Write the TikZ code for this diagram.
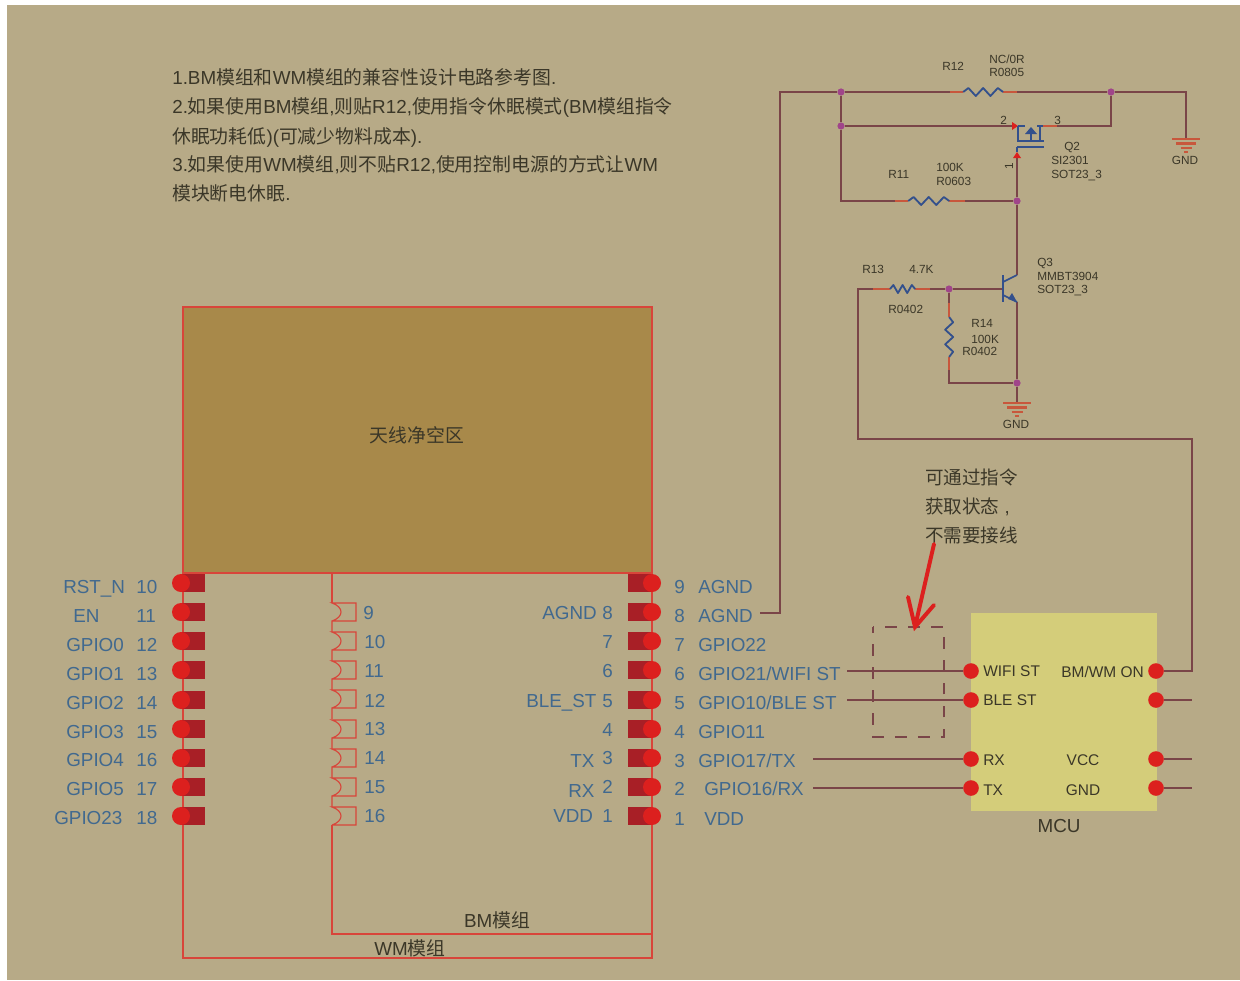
\documentclass[tikz,border=0pt]{standalone}
\usepackage{fontspec}
\setmainfont{Liberation Sans}
\newfontfamily\cjk{Noto Sans CJK SC}
\definecolor{boardtan}{HTML}{B7AA87}
\definecolor{clearzone}{HTML}{A8894A}
\definecolor{mcufill}{HTML}{D4CD7A}
\definecolor{modred}{HTML}{D8453A}
\definecolor{pinred}{HTML}{DC201E}
\definecolor{paddark}{HTML}{A81F26}
\definecolor{wirebrown}{HTML}{7A4548}
\definecolor{leadred}{HTML}{C8573C}
\definecolor{partblue}{HTML}{33508C}
\definecolor{joint}{HTML}{A0458A}
\definecolor{sigblue}{HTML}{41698F}
\definecolor{inkdark}{HTML}{3B3728}
\tikzset{
	modline/.style={line width=0.8pt, color=modred},
	wire/.style={line width=1.5pt, color=wirebrown},
	leadline/.style={line width=1.5pt, color=leadred},
	zigline/.style={line width=1.3pt, color=partblue, line join=round},
	partline/.style={line width=1.2pt, color=partblue},
	pindot/.style={circle, fill=pinred, inner sep=0pt, minimum size=0.45cm},
	mcudot/.style={circle, fill=pinred, inner sep=0pt, minimum size=0.39cm},
	jointdot/.style={circle, fill=joint, inner sep=0pt, minimum size=0.18cm},
	sigtxt/.style={anchor=west, inner sep=0pt, color=sigblue, text height=12pt, text depth=2pt, font=\fontsize{13.4}{16}\selectfont},
	notetxt/.style={anchor=west, inner sep=0pt, color=inkdark, text height=12pt, text depth=2pt, font=\fontsize{13.4}{16}\selectfont},
	mcutxt/.style={anchor=west, inner sep=0pt, color=inkdark, text height=10pt, text depth=2pt, font=\fontsize{11}{13}\selectfont},
	parttxt/.style={anchor=west, inner sep=0pt, color=inkdark, text height=7.5pt, text depth=1.5pt, font=\fontsize{8.4}{10}\selectfont},
	redmark/.style={line width=2.8pt, color=pinred, line cap=round}
}
\def\zh#1{{\cjk #1}}
\def\leftpad#1#2{\fill[paddark] (181,#2-9) rectangle (205,#2+9); \node[pindot] (#1) at (181,#2) {};}
\def\rightpad#1#2{\fill[paddark] (628,#2-9) rectangle (652,#2+9); \node[pindot] (#1) at (652,#2) {};}
\def\castle#1{\draw[modline] (332,#1+9) .. controls (344,#1+5) and (344,#1-5) .. (332,#1-9) -- (356,#1-9) -- (356,#1+9) -- (332,#1+9) -- (332,#1+20);}
\def\zig[#1](#2){\draw[zigline,#1] (#2) -- ++(5,-4) -- ++(7,8) -- ++(7,-8) -- ++(7,8) -- ++(7,-8) -- ++(5,4);}
\def\gndmark(#1){\draw[leadline] (#1) ++(-14,0) -- ++(28,0); \draw[leadline] (#1) ++(-10,4.5) -- ++(20,0); \draw[leadline] (#1) ++(-5.5,9) -- ++(11,0); \draw[leadline] (#1) ++(-2,13) -- ++(4,0);}

\begin{document}
\begin{tikzpicture}[x=0.025cm, y=-0.025cm]
		%%%%% START %%%%%
		\useasboundingbox (0, 0) rectangle (1240, 980);
		\fill[boardtan] (7, 5) rectangle (1240, 980);
		
		\node[notetxt] (noteone) at (172, 77) {1.BM\zh{模组和}WM\zh{模组的兼容性设计电路参考图}.};
		\node[notetxt] (notetwo) at (172, 106) {2.\zh{如果使用}BM\zh{模组},\zh{则贴}R12,\zh{使用指令休眠模式}(BM\zh{模组指令}};
		\node[notetxt] (notethree) at (172, 136) {\zh{休眠功耗低})(\zh{可减少物料成本}).};
		\node[notetxt] (notefour) at (172, 164) {3.\zh{如果使用}WM\zh{模组},\zh{则不贴}R12,\zh{使用控制电源的方式让}WM};
		\node[notetxt] (notefive) at (172, 193) {\zh{模块断电休眠}.};
		
		% module outlines
		\fill[clearzone] (183, 307) rectangle (652, 573);
		\draw[modline] (183, 307) rectangle (652, 958);
		\draw[modline] (183, 573) -- (652, 573);
		\draw[modline] (332, 573) -- (332, 603);
		\draw[modline] (332, 825) -- (332, 934) -- (652, 934);
		\node[notetxt, anchor=center] (cleartxt) at (417, 435) {\zh{天线净空区}};
		\node[notetxt, anchor=center] (bmtxt) at (497, 920) {BM\zh{模组}};
		\node[notetxt, anchor=center] (wmtxt) at (410, 948) {WM\zh{模组}};
		
		\castle{612}
		\castle{641}
		\castle{670}
		\castle{699}
		\castle{729}
		\castle{758}
		\castle{787}
		\draw[modline] (332, 825) .. controls (344, 821) and (344, 811) .. (332, 807) -- (356, 807) -- (356, 825) -- (332, 825);
		
		\node[sigtxt] (castnine) at (363, 612) {9};
		\node[sigtxt] (castten) at (364, 641) {10};
		\node[sigtxt] (casteleven) at (364, 670) {11};
		\node[sigtxt] (casttwelve) at (364, 700) {12};
		\node[sigtxt] (castthirteen) at (364, 728) {13};
		\node[sigtxt] (castfourteen) at (364, 757) {14};
		\node[sigtxt] (castfifteen) at (364, 786) {15};
		\node[sigtxt] (castsixteen) at (364, 815) {16};
		
		% left row
		\leftpad{lpten}{583}
		\leftpad{lpeleven}{612}
		\leftpad{lptwelve}{641}
		\leftpad{lpthirteen}{670}
		\leftpad{lpfourteen}{700}
		\leftpad{lpfifteen}{729}
		\leftpad{lpsixteen}{758}
		\leftpad{lpseventeen}{787}
		\leftpad{lpeighteen}{816}
		
		\node[sigtxt] (lnameten) at (63, 586) {RST\_N};
		\node[sigtxt] (lnameeleven) at (73, 615) {EN};
		\node[sigtxt] (lnametwelve) at (66, 644) {GPIO0};
		\node[sigtxt] (lnamethirteen) at (66, 673) {GPIO1};
		\node[sigtxt] (lnamefourteen) at (66, 702) {GPIO2};
		\node[sigtxt] (lnamefifteen) at (66, 731) {GPIO3};
		\node[sigtxt] (lnamesixteen) at (66, 759) {GPIO4};
		\node[sigtxt] (lnameseventeen) at (66, 788) {GPIO5};
		\node[sigtxt] (lnameeighteen) at (54, 817) {GPIO23};
		
		\node[sigtxt] (lnumten) at (136, 586) {10};
		\node[sigtxt] (lnumeleven) at (136, 615) {11};
		\node[sigtxt] (lnumtwelve) at (136, 644) {12};
		\node[sigtxt] (lnumthirteen) at (136, 673) {13};
		\node[sigtxt] (lnumfourteen) at (136, 702) {14};
		\node[sigtxt] (lnumfifteen) at (136, 731) {15};
		\node[sigtxt] (lnumsixteen) at (136, 759) {16};
		\node[sigtxt] (lnumseventeen) at (136, 788) {17};
		\node[sigtxt] (lnumeighteen) at (136, 817) {18};
		
		% right row
		\rightpad{rpnine}{583}
		\rightpad{rpeight}{612}
		\rightpad{rpseven}{641}
		\rightpad{rpsix}{670}
		\rightpad{rpfive}{700}
		\rightpad{rpfour}{729}
		\rightpad{rpthree}{758}
		\rightpad{rptwo}{787}
		\rightpad{rpone}{816}
		
		\node[sigtxt] (inagnd) at (542, 612) {AGND};
		\node[sigtxt] (innumeight) at (602, 612) {8};
		\node[sigtxt] (innumseven) at (602, 641) {7};
		\node[sigtxt] (innumsix) at (602, 670) {6};
		\node[sigtxt] (inblest) at (526, 700) {BLE\_ST};
		\node[sigtxt] (innumfive) at (602, 700) {5};
		\node[sigtxt] (innumfour) at (602, 729) {4};
		\node[sigtxt] (intx) at (570, 760) {TX};
		\node[sigtxt] (innumthree) at (602, 757) {3};
		\node[sigtxt] (inrx) at (568, 790) {RX};
		\node[sigtxt] (innumtwo) at (602, 786) {2};
		\node[sigtxt] (invdd) at (553, 815) {VDD};
		\node[sigtxt] (innumone) at (602, 815) {1};
		
		\node[sigtxt] (outnumnine) at (674, 586) {9};
		\node[sigtxt] (outnumeight) at (674, 615) {8};
		\node[sigtxt] (outnumseven) at (674, 644) {7};
		\node[sigtxt] (outnumsix) at (674, 673) {6};
		\node[sigtxt] (outnumfive) at (674, 702) {5};
		\node[sigtxt] (outnumfour) at (674, 731) {4};
		\node[sigtxt] (outnumthree) at (674, 760) {3};
		\node[sigtxt] (outnumtwo) at (674, 788) {2};
		\node[sigtxt] (outnumone) at (674, 818) {1};
		
		\node[sigtxt] (gagndnine) at (698, 586) {AGND};
		\node[sigtxt] (gagndeight) at (698, 615) {AGND};
		\node[sigtxt] (gseven) at (698, 644) {GPIO22};
		\node[sigtxt] (gsix) at (698, 673) {GPIO21/WIFI ST};
		\node[sigtxt] (gfive) at (698, 702) {GPIO10/BLE ST};
		\node[sigtxt] (gfour) at (698, 731) {GPIO11};
		\node[sigtxt] (gthree) at (698, 760) {GPIO17/TX};
		\node[sigtxt] (gtwo) at (704, 788) {GPIO16/RX};
		\node[sigtxt] (gone) at (704, 818) {VDD};
		
		% mcu block
		\fill[mcufill] (971, 613) rectangle (1157, 811);
		\node[mcudot] (mcuwifi) at (971, 671) {};
		\node[mcudot] (mcuble) at (971, 700) {};
		\node[mcudot] (mcurx) at (971, 759) {};
		\node[mcudot] (mcutx) at (971, 788) {};
		\node[mcudot] (mcuon) at (1156, 671) {};
		\node[mcudot] (mcuspare) at (1156, 700) {};
		\node[mcudot] (mcuvcc) at (1156, 759) {};
		\node[mcudot] (mcugnd) at (1156, 788) {};
		\node[mcutxt] (wifitxt) at (983, 671) {WIFI ST};
		\node[mcutxt] (bletxt) at (983, 700) {BLE ST};
		\node[mcutxt] (rxtxt) at (983, 760) {RX};
		\node[mcutxt] (txtxt) at (983, 790) {TX};
		\node[mcutxt] (ontxt) at (1061, 672) {BM/WM ON};
		\node[mcutxt, anchor=center] (vcctxt) at (1083, 760) {VCC};
		\node[mcutxt, anchor=center] (gndtxt) at (1083, 790) {GND};
		\node[notetxt, anchor=center] (mcutxtb) at (1059, 825) {MCU};
		
		\coordinate (wifiend) at (847, 671);
		\coordinate (bleend) at (847, 700);
		\coordinate (rxend) at (813, 759);
		\coordinate (txend) at (813, 788);
		\coordinate (spareend) at (1192, 700);
		\coordinate (vccend) at (1192, 759);
		\coordinate (gndend) at (1192, 788);
		\draw[wire] (wifiend) -- (mcuwifi);
		\draw[wire] (bleend) -- (mcuble);
		\draw[wire] (rxend) -- (mcurx);
		\draw[wire] (txend) -- (mcutx);
		\draw[wire] (mcuspare) -- (spareend);
		\draw[wire] (mcuvcc) -- (vccend);
		\draw[wire] (mcugnd) -- (gndend);
		
		\draw[line width=1.1pt, color=wirebrown, dash pattern=on 8.3pt off 8pt, dash phase=4pt] (873, 627) rectangle (944, 737);
		
		\node[notetxt, font=\fontsize{13.2}{16}\selectfont] (hintone) at (925, 477) {\zh{可通过指令}};
		\node[notetxt, font=\fontsize{13.2}{16}\selectfont] (hinttwo) at (925, 506) {\zh{获取状态} ,};
		\node[notetxt, font=\fontsize{13.2}{16}\selectfont] (hintthree) at (925, 535) {\zh{不需要接线}};
		\coordinate (hinttail) at (934, 544);
		\coordinate (hinttip) at (915, 627);
		\coordinate (hintbarba) at (908, 597);
		\coordinate (hintbarbb) at (934, 605);
		\draw[redmark] (hinttail) -- (hinttip);
		\draw[redmark] (hintbarba) -- (hinttip) -- (hintbarbb);
		
		% power switch
		\node[jointdot] (jtopleft) at (841, 92) {};
		\node[jointdot] (jgateleft) at (841, 126) {};
		\node[jointdot] (jtopright) at (1111, 92) {};
		\node[jointdot] (jdrain) at (1017, 201) {};
		\coordinate (agndend) at (760, 613);
		\coordinate (wirecorner) at (780, 92);
		\coordinate (gndtopcorner) at (1186, 92);
		\coordinate (gndtop) at (1186, 139);
		\coordinate (r12a) at (963, 92);
		\coordinate (r12b) at (1003, 92);
		\coordinate (r11a) at (908, 201);
		\coordinate (r11b) at (949, 201);
		\coordinate (r11corner) at (841, 201);
		\coordinate (q2src) at (1012, 126);
		\coordinate (q2drn) at (1043, 126);
		\coordinate (q2gate) at (1017, 158);
		\coordinate (q2rise) at (1111, 126);
		
		\draw[wire] (agndend) -| (wirecorner) -- (jtopleft);
		\draw[wire] (jtopleft) -- (r12a);
		\draw[wire] (r12b) -- (jtopright);
		\draw[wire] (jtopright) -- (gndtopcorner) -- (gndtop);
		\draw[wire] (jtopleft) -- (jgateleft);
		\draw[wire] (jgateleft) -- (r11corner) -- (r11a);
		\draw[wire] (r11b) -- (jdrain);
		\draw[wire] (jgateleft) -- (q2src);
		\draw[wire] (jtopright) -- (q2rise) -- (q2drn);
		\draw[wire] (q2gate) -- (jdrain);
		
		\draw[leadline] (r12a) -- ++(-13, 0);
		\draw[leadline] (r12b) -- ++(14, 0);
		\draw[leadline] (r11a) -- ++(-13, 0);
		\draw[leadline] (r11b) -- ++(16, 0);
		\draw[leadline] (q2drn) -- ++(14, 0);
		\zig[xscale=1.05](r12a)
		\zig[xscale=1.08](r11a)
		\gndmark(gndtop)
		\node[parttxt, anchor=center] (gndright) at (1185, 160) {GND};
		
		\fill[pinred] (1012, 122) -- (1018, 126) -- (1012, 130) -- cycle;
		\fill[pinred] (1013, 158) -- (1017, 152) -- (1021, 158) -- cycle;
		\draw[partline] (1018, 126) -- (1018, 141);
		\draw[partline] (1018, 126) -- (1025, 126);
		\draw[partline] (1037, 126) -- (1043, 126);
		\draw[partline] (1031, 128) -- (1031, 141);
		\draw[partline] (1040, 126) -- (1040, 141);
		\draw[partline] (1017, 141) -- (1044, 141);
		\draw[partline] (1017, 147) -- (1044, 147);
		\draw[partline] (1017, 147) -- (1017, 152);
		\fill[partblue] (1025, 134) -- (1031, 127) -- (1037, 134) -- cycle;
		
		\node[parttxt] (r12name) at (942, 66) {R12};
		\node[parttxt] (r12value) at (989, 59) {NC/0R};
		\node[parttxt] (r12size) at (989, 72) {R0805};
		\node[parttxt] (r11name) at (888, 174) {R11};
		\node[parttxt] (r11value) at (936, 167) {100K};
		\node[parttxt] (r11size) at (936, 181) {R0603};
		\node[parttxt] (q2name) at (1064, 146) {Q2};
		\node[parttxt] (q2type) at (1051, 160) {SI2301};
		\node[parttxt] (q2case) at (1051, 174) {SOT23\_3};
		\node[parttxt] (pintwo) at (1000, 120) {2};
		\node[parttxt] (pinthree) at (1054, 120) {3};
		\node[parttxt, anchor=center, rotate=90] (pinone) at (1009, 166) {1};
		
		% switch driver
		\node[jointdot] (jbase) at (949, 289) {};
		\node[jointdot] (jground) at (1017, 383) {};
		\coordinate (q3col) at (1017, 275);
		\coordinate (q3emit) at (1017, 302);
		\coordinate (q3base) at (1003, 289);
		\coordinate (r13a) at (890, 289);
		\coordinate (r13b) at (915, 289);
		\coordinate (r14a) at (949, 317);
		\coordinate (r14b) at (949, 357);
		\coordinate (r14corner) at (949, 383);
		\coordinate (gndlow) at (1017, 403);
		\coordinate (ctrlcorner) at (858, 439);
		\coordinate (ctrlright) at (1192, 439);
		
		\draw[wire] (jdrain) -- (q3col);
		\draw[wire] (q3emit) -- (jground);
		\draw[wire] (jground) -- (gndlow);
		\draw[wire] (jbase) -- (r14a);
		\draw[wire] (r14b) -- (r14corner) -- (jground);
		\draw[wire] (r13b) -- (jbase);
		\draw[wire] (jbase) -- (q3base);
		\draw[wire] (r13a) -| (ctrlcorner) -- (ctrlright) |- (mcuon);
		
		\draw[leadline] (r13a) -- ++(-17, 0);
		\draw[leadline] (r13b) -- ++(15, 0);
		\draw[leadline] (r14a) -- ++(0, -14);
		\draw[leadline] (r14b) -- ++(0, 13);
		\zig[xscale=0.66](r13a)
		\zig[rotate=-90, xscale=1.05](r14a)
		\gndmark(gndlow)
		\node[parttxt, anchor=center] (gndlower) at (1016, 424) {GND};
		
		\draw[partline] (q3base) ++(0, -14) -- ++(0, 27);
		\draw[partline] (q3base) ++(0, -7) -- (q3col);
		\draw[partline] (q3base) ++(0, 6) -- (q3emit);
		\fill[partblue] (1017, 302) -- (1008, 299) -- (1012, 293) -- cycle;
		
		\node[parttxt] (r13name) at (862, 269) {R13};
		\node[parttxt] (r13value) at (909, 269) {4.7K};
		\node[parttxt] (r13size) at (888, 309) {R0402};
		\node[parttxt] (r14name) at (971, 323) {R14};
		\node[parttxt] (r14value) at (971, 339) {100K};
		\node[parttxt] (r14size) at (962, 351) {R0402};
		\node[parttxt] (q3name) at (1037, 262) {Q3};
		\node[parttxt] (q3type) at (1037, 276) {MMBT3904};
		\node[parttxt] (q3case) at (1037, 289) {SOT23\_3};
		
		%%%%% END %%%%%
	\end{tikzpicture}
\end{document}
